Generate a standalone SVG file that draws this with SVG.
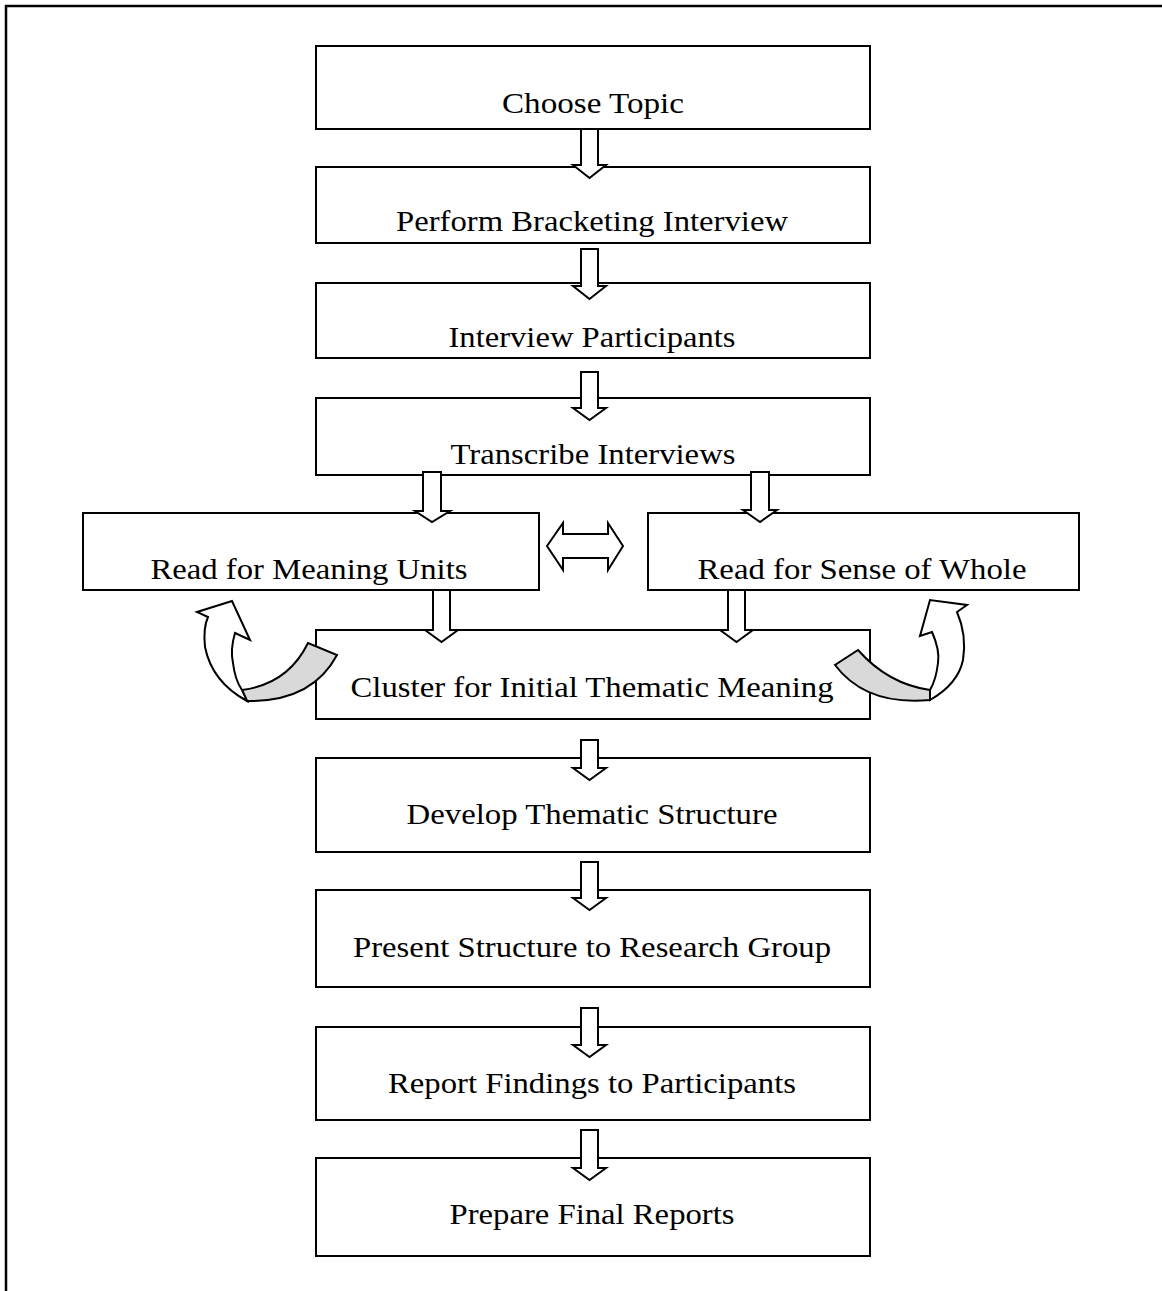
<svg xmlns="http://www.w3.org/2000/svg" width="1162" height="1291" viewBox="0 0 1162 1291">
<style>
.box{fill:#fff;stroke:#000;stroke-width:2}
.lbl{font-family:"Liberation Serif","Times New Roman",serif;font-size:29px;fill:#000;text-anchor:middle}
.arr{fill:#fff;stroke:#000;stroke-width:2;stroke-linejoin:miter}
.grey{fill:#d9d9d9;stroke:#000;stroke-width:2}
</style>
<rect width="1162" height="1291" fill="#fff"/>
<path d="M6 1291 V6 H1162" fill="none" stroke="#000" stroke-width="2.5"/>

<g id="n1"><rect class="box" x="316" y="46" width="554" height="83"/><text class="lbl" x="593" y="113" textLength="182" lengthAdjust="spacingAndGlyphs">Choose Topic</text></g>
<g id="n2"><rect class="box" x="316" y="167" width="554" height="76"/><text class="lbl" x="592" y="231" textLength="392" lengthAdjust="spacingAndGlyphs">Perform Bracketing Interview</text></g>
<g id="n3"><rect class="box" x="316" y="283" width="554" height="75"/><text class="lbl" x="592" y="347" textLength="287" lengthAdjust="spacingAndGlyphs">Interview Participants</text></g>
<g id="n4"><rect class="box" x="316" y="398" width="554" height="77"/><text class="lbl" x="593" y="464" textLength="285" lengthAdjust="spacingAndGlyphs">Transcribe Interviews</text></g>
<g id="n5"><rect class="box" x="83" y="513" width="456" height="77"/><text class="lbl" x="309" y="579" textLength="317" lengthAdjust="spacingAndGlyphs">Read for Meaning Units</text></g>
<g id="n6"><rect class="box" x="648" y="513" width="431" height="77"/><text class="lbl" x="862" y="579" textLength="329" lengthAdjust="spacingAndGlyphs">Read for Sense of Whole</text></g>
<g id="n7"><rect class="box" x="316" y="630" width="554" height="89"/><text class="lbl" x="592" y="697" textLength="483" lengthAdjust="spacingAndGlyphs">Cluster for Initial Thematic Meaning</text></g>
<g id="n8"><rect class="box" x="316" y="758" width="554" height="94"/><text class="lbl" x="592" y="824" textLength="371" lengthAdjust="spacingAndGlyphs">Develop Thematic Structure</text></g>
<g id="n9"><rect class="box" x="316" y="890" width="554" height="97"/><text class="lbl" x="592" y="957" textLength="478" lengthAdjust="spacingAndGlyphs">Present Structure to Research Group</text></g>
<g id="n10"><rect class="box" x="316" y="1027" width="554" height="93"/><text class="lbl" x="592" y="1093" textLength="408" lengthAdjust="spacingAndGlyphs">Report Findings to Participants</text></g>
<g id="n11"><rect class="box" x="316" y="1158" width="554" height="98"/><text class="lbl" x="592" y="1224" textLength="285" lengthAdjust="spacingAndGlyphs">Prepare Final Reports</text></g>

<g id="connectors">
<polygon class="arr" points="581,129 598,129 598,165 606,165 589.5,178 573,165 581,165"/>
<polygon class="arr" points="581,249 598,249 598,286 606,286 589.5,299 573,286 581,286"/>
<polygon class="arr" points="581,372 598,372 598,408 606,408 589.5,420 573,408 581,408"/>
<polygon class="arr" points="423,472 441,472 441,511 450,511 432,522 415,511 423,511"/>
<polygon class="arr" points="751,472 769,472 769,510 777,510 760,522 743,510 751,510"/>
<polygon class="arr" points="433,590 450,590 450,630 458,630 441.5,642 425,630 433,630"/>
<polygon class="arr" points="728,590 745,590 745,630 753,630 736.5,642 720,630 728,630"/>
<polygon class="arr" points="581,740 598,740 598,768 606,768 589.5,780 573,768 581,768"/>
<polygon class="arr" points="581,862 598,862 598,898 606,898 589.5,910 573,898 581,898"/>
<polygon class="arr" points="581,1008 598,1008 598,1045 606,1045 589.5,1057 573,1045 581,1045"/>
<polygon class="arr" points="581,1130 598,1130 598,1168 606,1168 589.5,1180 573,1168 581,1168"/>
<polygon class="arr" points="547,546 563,523 563,534 608,534 608,523 623,546 608,570 608,558 563,558 563,570"/>
<path class="grey" d="M308 643 Q288 684 242 690 L247 701 Q312 702 337 655 Z"/>
<path class="arr" d="M247 701 Q212 682 205 647 Q203 628 208 617 L197 612 L232 601 L250 640 L235 633 Q230 650 233 663 Q235 680 242 690 Z"/>
<path class="grey" d="M858 650 Q888 684 930 690 L930 700 Q866 706 835 665 Z"/>
<path class="arr" d="M930 700 Q958 684 963 660 Q967 635 957 612 L967 605 L930 600 L920 636 L932 632 Q940 650 938 663 Q936 680 930 690 Z"/>
</g>
</svg>
